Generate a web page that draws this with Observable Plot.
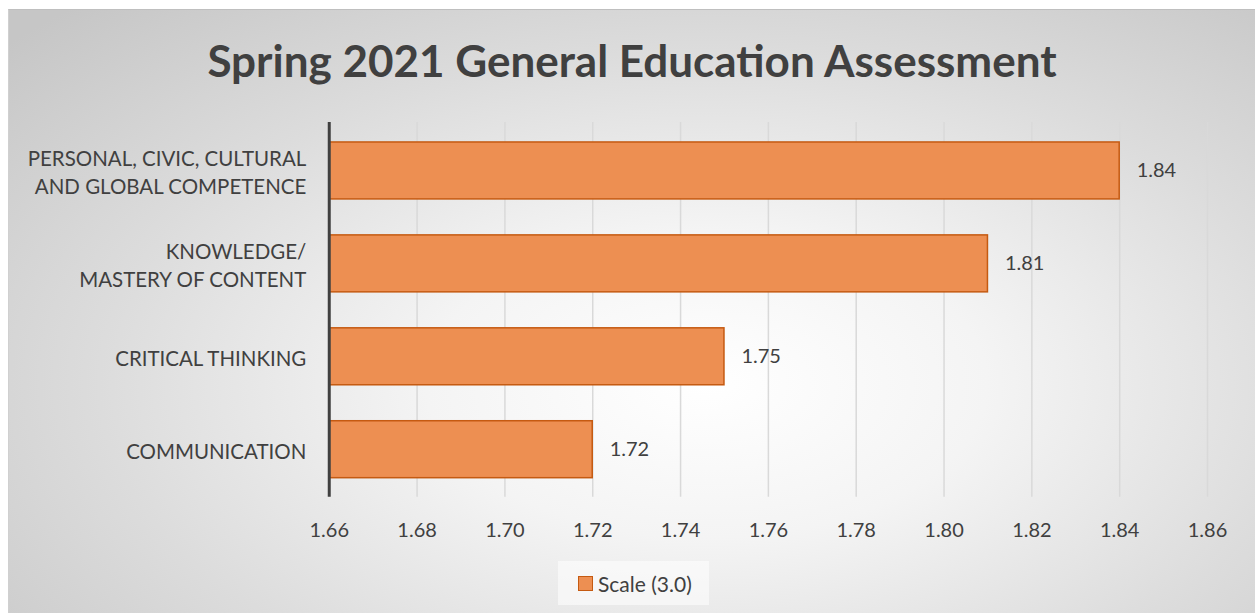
<!DOCTYPE html>
<html>
<head>
<meta charset="utf-8">
<script src="https://cdn.jsdelivr.net/npm/d3@7"></script>
<script src="https://cdn.jsdelivr.net/npm/@observablehq/plot@0.6"></script>
<style>
  html, body { margin: 0; padding: 0; background: #ffffff; }
  #wrap { width: 1255px; height: 613px; position: relative; overflow: hidden; background: #fff; }
  #frame {
    position: absolute; left: 8px; top: 9px; width: 1247px; height: 604px;
    border-top: 1px solid #bfbfbf; border-left: 1px solid #d0d0d0; box-sizing: border-box;
    background: radial-gradient(ellipse 75% 85% at 56% 62%, #ffffff 0%, #f4f4f4 30%, #dcdcdc 65%, #c6c6c6 100%);
    font-family: Lato, "Open Sans", sans-serif;
  }
  #title { height: 95px; line-height: 100px; text-align: center; font-size: 44px; font-weight: bold; color: #404040; }
  #chart svg { display: block; }
  #legend { position: absolute; left: 549px; top: 551px; width: 151px; height: 44px; background: rgba(255,255,255,0.55); display: flex; align-items: center; }
  #legend .sw { width: 13px; height: 13px; background: #ED8F52; border: 1.5px solid #C55A11; margin-left: 20px; margin-right: 5px; }
  #legend .lt { font-size: 21px; color: #404040; }
</style>
</head>
<body>
<div id="wrap">
  <div id="frame">
    <div id="title">Spring 2021 General Education Assessment</div>
    <div id="chart"></div>
    <div id="legend"><div class="sw"></div><div class="lt">Scale (3.0)</div></div>
  </div>
</div>
<script>
const categories = [
  "PERSONAL, CIVIC, CULTURAL\nAND GLOBAL COMPETENCE",
  "KNOWLEDGE/\nMASTERY OF CONTENT",
  "CRITICAL THINKING",
  "COMMUNICATION"
];
const values = [1.84, 1.81, 1.75, 1.72];
const seriesName = "Scale (3.0)";
const axisMin = 1.66;
const axisMax = 1.86;
const tickValues = [1.66, 1.68, 1.70, 1.72, 1.74, 1.76, 1.78, 1.80, 1.82, 1.84, 1.86];

const data = categories.map((c, i) => ({category: c, value: values[i], base: axisMin}));

const chart = Plot.plot({
  width: 1247,
  height: 450,
  marginTop: 17,
  marginBottom: 58,
  marginLeft: 320,
  marginRight: 48,
  style: {fontFamily: "Lato, 'Open Sans', sans-serif", fontSize: "20px", color: "#404040", background: "transparent"},
  x: {domain: [axisMin, axisMax], ticks: tickValues, tickFormat: d3.format(".2f")},
  y: {domain: categories, paddingInner: 0.39, paddingOuter: 0.2},
  marks: [
    Plot.gridX(tickValues, {stroke: "#d9d9d9", strokeOpacity: 1, strokeWidth: 1.5}),
    Plot.axisX({ticks: tickValues, tickFormat: d3.format(".2f"), tickSize: 0, tickPadding: 26, fontSize: 20, fill: "#404040", label: null}),
    Plot.axisY({tickSize: 0, tickPadding: 23, fontSize: 20.5, fill: "#404040", label: null, lineHeight: 1.38}),
    Plot.barX(data, {y: "category", x1: "base", x2: "value", fill: "#ED8F52", stroke: "#C55A11", strokeWidth: 1.5}),
    Plot.text(data, {y: "category", x: "value", text: d => d3.format(".2f")(d.value), dx: 17, textAnchor: "start", fontSize: 20, fill: "#404040"}),
    Plot.ruleX([axisMin], {stroke: "#404040", strokeWidth: 3})
  ]
});
document.getElementById("chart").appendChild(chart);
</script>
</body>
</html>
